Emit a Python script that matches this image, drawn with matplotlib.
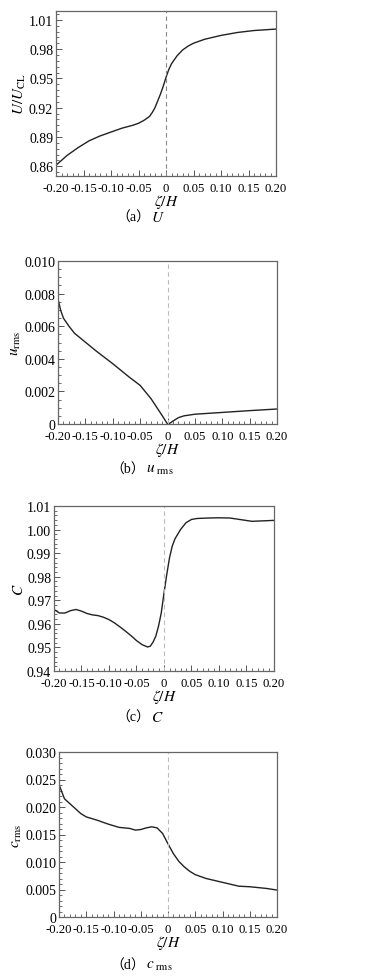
import numpy as np
import matplotlib
matplotlib.use('Agg')
import matplotlib.pyplot as plt
from matplotlib.ticker import FixedLocator, FixedFormatter, AutoMinorLocator

plt.rcParams['font.family'] = ['Liberation Serif', 'Noto Sans CJK SC']
plt.rcParams['mathtext.fontset'] = 'stix'

# --- dados ---
x_ticks = [-0.20, -0.15, -0.10, -0.05, 0, 0.05, 0.10, 0.15, 0.20]
x_ticklabels = ['-0.20', '-0.15', '-0.10', '-0.05', '0', '0.05', '0.10', '0.15', '0.20']

# (a) U/U_CL
x_a = [-0.20, -0.18, -0.16, -0.14, -0.12, -0.10, -0.08, -0.06, -0.05, -0.04, -0.03,
       -0.025, -0.02, -0.015, -0.01, -0.005, 0, 0.005, 0.01, 0.02, 0.03, 0.04, 0.05,
       0.07, 0.10, 0.13, 0.16, 0.20]
u_a = [0.861, 0.871, 0.879, 0.886, 0.891, 0.895, 0.899, 0.902, 0.904, 0.907, 0.911,
       0.915, 0.920, 0.927, 0.934, 0.942, 0.951, 0.959, 0.965, 0.973, 0.979, 0.983, 0.986,
       0.990, 0.994, 0.997, 0.999, 1.0005]
yt_a = [0.86, 0.89, 0.92, 0.95, 0.98, 1.01]
ytl_a = ['0.86', '0.89', '0.92', '0.95', '0.98', '1.01']

# (b) u_rms
x_b = [-0.20, -0.195, -0.19, -0.18, -0.17, -0.15, -0.13, -0.10, -0.07, -0.05, -0.03,
       -0.02, -0.01, 0, 0.005, 0.01, 0.02, 0.03, 0.05, 0.10, 0.15, 0.20]
u_b = [0.00767, 0.00696, 0.00649, 0.0060, 0.00557, 0.00502, 0.00447, 0.0037, 0.00288,
       0.00237, 0.00155, 0.00104, 0.00053, 0.0, 0.00006, 0.00018, 0.00039, 0.00050,
       0.00060, 0.00071, 0.00082, 0.00092]
yt_b = [0, 0.002, 0.004, 0.006, 0.008, 0.010]
ytl_b = ['0', '0.002', '0.004', '0.006', '0.008', '0.010']

# (c) C
x_c = [-0.20, -0.19, -0.18, -0.17, -0.16, -0.15, -0.14, -0.13, -0.12, -0.11, -0.10,
       -0.09, -0.08, -0.07, -0.06, -0.05, -0.04, -0.03, -0.025, -0.02, -0.015, -0.01,
       -0.005, 0, 0.005, 0.01, 0.015, 0.02, 0.03, 0.04, 0.05, 0.06, 0.08, 0.10, 0.12,
       0.14, 0.16, 0.18, 0.20]
c_c = [0.9661, 0.9646, 0.9646, 0.9656, 0.9661, 0.9654, 0.9644, 0.9638, 0.9635, 0.9628,
       0.9618, 0.9604, 0.9587, 0.9569, 0.9550, 0.9529, 0.9512, 0.9502, 0.9505, 0.9522,
       0.9547, 0.9590, 0.9646, 0.9731, 0.9809, 0.9880, 0.9930, 0.9961, 1.0000, 1.0029,
       1.0043, 1.0047, 1.0049, 1.0050, 1.0049, 1.0042, 1.0035, 1.0037, 1.0039]
yt_c = [0.94, 0.95, 0.96, 0.97, 0.98, 0.99, 1.00, 1.01]
ytl_c = ['0.94', '0.95', '0.96', '0.97', '0.98', '0.99', '1.00', '1.01']

# (d) c_rms
x_d = [-0.20, -0.19, -0.18, -0.17, -0.16, -0.15, -0.13, -0.11, -0.09, -0.07, -0.06,
       -0.05, -0.04, -0.03, -0.02, -0.01, 0, 0.01, 0.02, 0.03, 0.04, 0.05, 0.07, 0.10,
       0.13, 0.15, 0.18, 0.20]
c_d = [0.0241, 0.0215, 0.0206, 0.0197, 0.0188, 0.0182, 0.0176, 0.0169, 0.0163, 0.0161,
       0.0158, 0.0159, 0.0162, 0.0164, 0.0162, 0.0152, 0.0133, 0.0115, 0.0101, 0.0091,
       0.0083, 0.0077, 0.0070, 0.0063, 0.0056, 0.0055, 0.0052, 0.0049]
yt_d = [0, 0.005, 0.010, 0.015, 0.020, 0.025, 0.030]
ytl_d = ['0', '0.005', '0.010', '0.015', '0.020', '0.025', '0.030']

W, H = 367, 979
fig = plt.figure(figsize=(W / 100, H / 100), dpi=100)

paineis = [
    # (left, right, top, bottom) em pixels, dados, ylim, ylabel, legenda
    ((56, 276, 12, 177), x_a, u_a, (0.85, 1.019), yt_a, ytl_a, 5,
     r'$U/U_{\mathrm{CL}}$', '（a）', r'$U$', 150, 218, '#888888'),
    ((58, 277, 262, 425), x_b, u_b, (0, 0.010), yt_b, ytl_b, 4,
     r'$u_{\mathrm{rms}}$', '（b）', r'$u_{\ \mathrm{rms}}$', 145, 470, '#bbbbbb'),
    ((54, 274, 507, 672), x_c, c_c, (0.94, 1.01), yt_c, ytl_c, 5,
     r'$C$', '（c）', r'$C$', 150, 718, '#bbbbbb'),
    ((59, 277, 753, 918), x_d, c_d, (0, 0.030), yt_d, ytl_d, 5,
     r'$c_{\mathrm{rms}}$', '（d）', r'$c_{\ \mathrm{rms}}$', 145, 966, '#bbbbbb'),
]

for (l, r, t, b), xs, ys, ylim, yt, ytl, nminor, ylab, cap, capm, xcap, ycap, cdash in paineis:
    ax = fig.add_axes([l / W, 1 - b / H, (r - l) / W, (b - t) / H])
    ax.plot(xs, ys, color='#222222', lw=1.0)
    ax.axvline(0, color=cdash, lw=0.8, ls=(0, (4, 3)))
    ax.set_xlim(-0.2, 0.2)
    ax.set_ylim(*ylim)
    ax.xaxis.set_major_locator(FixedLocator(x_ticks))
    ax.xaxis.set_major_formatter(FixedFormatter(x_ticklabels))
    ax.yaxis.set_major_locator(FixedLocator(yt))
    ax.yaxis.set_major_formatter(FixedFormatter(ytl))
    ax.xaxis.set_minor_locator(AutoMinorLocator(5))
    ax.yaxis.set_minor_locator(AutoMinorLocator(nminor))
    ax.tick_params(which='both', direction='in', top=False, right=False,
                   color='#555555')
    ax.tick_params(axis='x', labelsize=9.2, pad=4)
    ax.tick_params(axis='y', labelsize=10, pad=2)
    ax.tick_params(which='major', length=4, width=0.7)
    ax.tick_params(which='minor', length=2, width=0.6)
    for s in ax.spines.values():
        s.set_color('#666666')
        s.set_linewidth(0.9)
    ax.set_xlabel(r'$\zeta/H$', fontsize=11, labelpad=-1)
    ax.set_ylabel(ylab, fontsize=11, labelpad=1)
    fig.text(xcap / W, 1 - ycap / H, cap, ha='right', va='center', fontsize=10)
    fig.text((xcap + 1) / W, 1 - ycap / H, capm, ha='left', va='center', fontsize=11)

fig.savefig('out.png', dpi=100)
